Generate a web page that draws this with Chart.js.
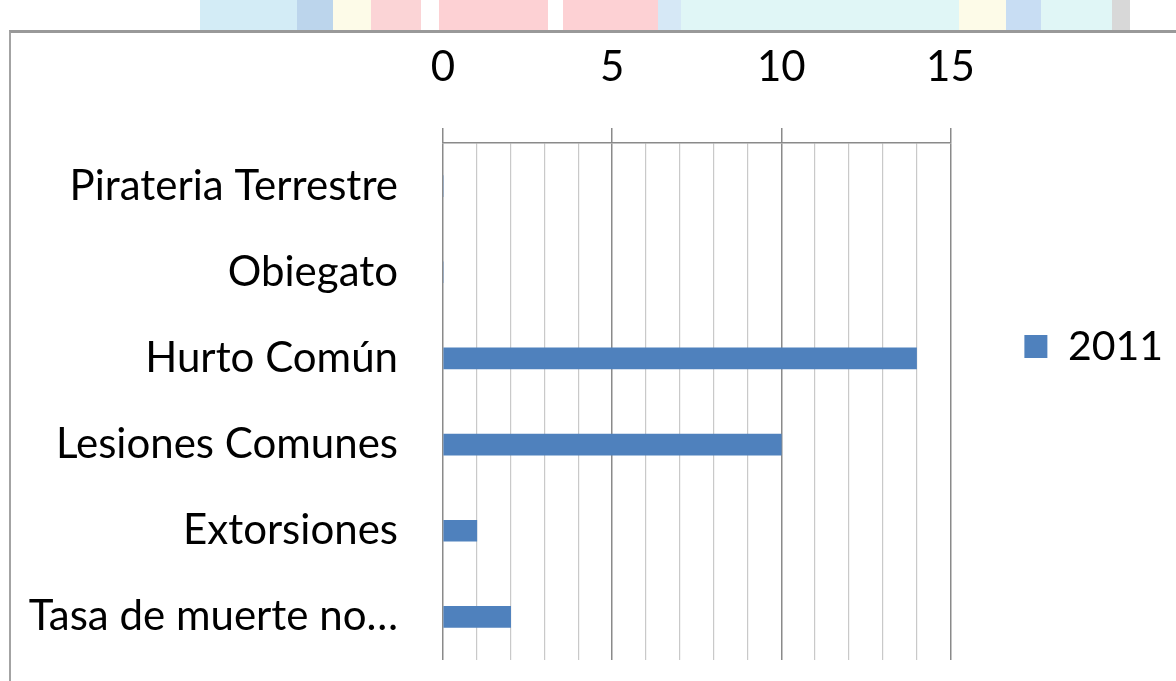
<!DOCTYPE html>
<html>
<head>
<meta charset="utf-8">
<script src="https://cdn.jsdelivr.net/npm/chart.js@4/dist/chart.umd.min.js"></script>
<style>
  html, body { margin: 0; padding: 0; background: #fff; overflow: hidden; width: 1176px; height: 681px; }
  /* faded slide background peeking above the chart frame */
  #band {
    position: absolute; left: 200px; top: 0; width: 940px; height: 31px;
    background: linear-gradient(to right,
      #d3ecf6 0px, #d3ecf6 97px, #bcd5ec 97px, #bcd5ec 133px, #fdfbe8 133px, #fdfbe8 171px,
      #fbd4d6 171px, #fbd4d6 221px, #fff 221px, #fff 239px, #fdd1d4 239px, #fdd1d4 348px,
      #fff 348px, #fff 363px, #fdd1d4 363px, #fdd1d4 458px, #d6e8f6 458px, #d6e8f6 481px,
      #e0f6f6 481px, #e0f6f6 759px, #fdfbe8 759px, #fdfbe8 806px, #c8ddf3 806px, #c8ddf3 841px,
      #e0f6f6 841px, #e0f6f6 912px, #d8d8d8 912px, #d8d8d8 930px, #fff 930px);
  }
  #frame {
    position: absolute; left: 9px; top: 30px; width: 1200px; height: 700px;
    border-left: 2px solid #a3a3a3; border-top: 3px solid #999;
  }
  #wrap { position: absolute; left: 11px; top: 33px; width: 1162px; height: 648px; }
</style>
</head>
<body>
<div id="band"></div>
<div id="frame"></div>
<div id="wrap"><canvas id="chart"></canvas></div>
<script>
const categories = ["Pirateria Terrestre", "Obiegato", "Hurto Común", "Lesiones Comunes", "Extorsiones", "Tasa de muerte no…"];
const values2011 = [0, 0, 14, 10, 1, 2];
const seriesName = "2011";
const xMin = 0, xMax = 15, majorStep = 5;

const BAR = "#4f81bd";
const MAJOR = "#8a8a8a";
const MINOR = "#c9c9c9";
const FONT = { family: "Lato, 'Open Sans', sans-serif", size: 42 };

Chart.defaults.color = "#000";

new Chart(document.getElementById("chart"), {
  type: "bar",
  data: {
    labels: categories,
    datasets: [{ label: seriesName, data: values2011, backgroundColor: BAR, borderWidth: 0, barThickness: 21 }],
  },
  options: {
    indexAxis: "y",
    responsive: true, maintainAspectRatio: false, animation: false,
    layout: { padding: { top: 0, bottom: 21, left: 0, right: 0 } },
    plugins: {
      tooltip: { enabled: false },
      legend: {
        position: "right",
        labels: { font: { family: FONT.family, size: 41 }, boxWidth: 23, boxHeight: 23, padding: 74, color: "#000" },
      },
    },
    scales: {
      x: {
        position: "top", min: xMin, max: xMax,
        afterFit: s => { s.height = 110; },
        ticks: {
          stepSize: 1, autoSkip: false, maxRotation: 0, padding: 35, font: FONT, color: "#000",
          callback: v => (v % majorStep === 0 ? String(v) : ""),
        },
        grid: {
          drawTicks: true, tickLength: 15,
          color: c => (c.tick && c.tick.value % majorStep === 0 ? MAJOR : MINOR),
          tickColor: c => (c.tick && c.tick.value % majorStep === 0 ? MAJOR : "rgba(0,0,0,0)"),
          lineWidth: c => (c.tick && c.tick.value % majorStep === 0 ? 1.5 : 1.2),
        },
        border: { display: true, color: MAJOR, width: 1.5 },
      },
      y: {
        // fixed label column; drop the label overhang padding so the plot reaches the bottom
        afterFit: s => { s.width = 432; s.paddingTop = 0; s.paddingBottom = 0; },
        ticks: { padding: 45, font: FONT, color: "#000" },
        grid: { display: false, drawTicks: false },
        border: { display: false },
      },
    },
  },
});
</script>
</body>
</html>
